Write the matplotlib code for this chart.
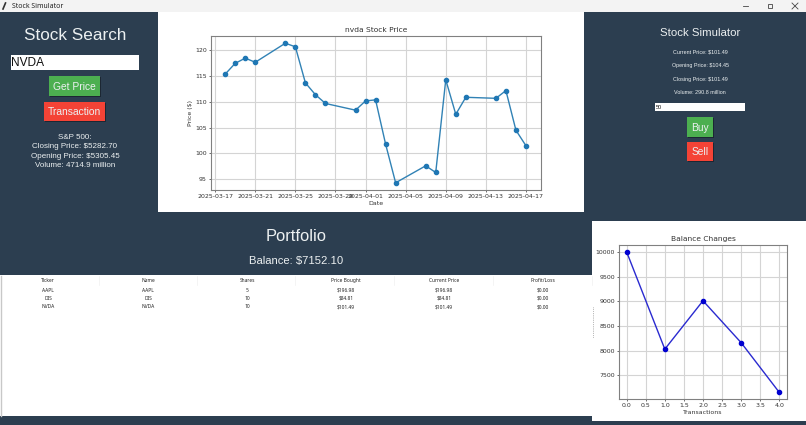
import matplotlib
matplotlib.use('Agg')
import matplotlib.pyplot as plt
import matplotlib.dates as mdates
from matplotlib.patches import Rectangle
from datetime import datetime

W, H = 806, 425
BG = '#2c3e50'
GREEN = '#4caf50'
RED = '#f44336'
LIGHT = '#ecf0f1'

dates = ['2025-03-18', '2025-03-19', '2025-03-20', '2025-03-21', '2025-03-24', '2025-03-25',
         '2025-03-26', '2025-03-27', '2025-03-28', '2025-03-31', '2025-04-01', '2025-04-02',
         '2025-04-03', '2025-04-04', '2025-04-07', '2025-04-08', '2025-04-09', '2025-04-10',
         '2025-04-11', '2025-04-14', '2025-04-15', '2025-04-16', '2025-04-17']
prices = [115.4, 117.5, 118.5, 117.7, 121.4, 120.7, 113.7, 111.4, 109.7, 108.4, 110.2, 110.4,
          101.8, 94.3, 97.6, 96.3, 114.3, 107.6, 110.9, 110.7, 112.2, 104.5, 101.49]
date_ticks = ['2025-03-17', '2025-03-21', '2025-03-25', '2025-03-29', '2025-04-01',
              '2025-04-05', '2025-04-09', '2025-04-13', '2025-04-17']
price_ticks = [95, 100, 105, 110, 115, 120]

transactions = [0, 1, 2, 3, 4]
balances = [10000, 8030, 9010, 8160, 7152]
trans_ticks = [0.0, 0.5, 1.0, 1.5, 2.0, 2.5, 3.0, 3.5, 4.0]
balance_ticks = [7500, 8000, 8500, 9000, 9500, 10000]

columns = ['Ticker', 'Name', 'Shares', 'Price Bought', 'Current Price', 'Profit/Loss']
rows = [['AAPL', 'AAPL', '5', '$196.98', '$196.98', '$0.00'],
        ['DIS', 'DIS', '10', '$84.81', '$84.81', '$0.00'],
        ['NVDA', 'NVDA', '10', '$101.49', '$101.49', '$0.00']]
column_x = [48, 148, 247, 346, 444, 543]
row_y = [290, 298, 307]

sp500_lines = ['S&P 500:', 'Closing Price: $5282.70', 'Opening Price: $5305.45', 'Volume: 4714.9 million']
sim_lines = ['Current Price: $101.49', 'Opening Price: $104.45', 'Closing Price: $101.49', 'Volume: 290.8 million']

plt.rcParams['font.family'] = ['Liberation Sans', 'DejaVu Sans']

fig = plt.figure(figsize=(W / 100, H / 100), dpi=100, facecolor=BG)

# everything that is window furniture is drawn in pixel coordinates
bg = fig.add_axes([0, 0, 1, 1])
bg.set_xlim(0, W)
bg.set_ylim(H, 0)
bg.axis('off')


def box(x0, y0, x1, y1, color, **kw):
    bg.add_patch(Rectangle((x0, y0), x1 - x0, y1 - y0, facecolor=color, edgecolor='none', **kw))


def button(x0, y0, x1, y1, color, label, size):
    box(x0 + 1, y0 + 1, x1 + 1, y1 + 1, '#1c2733')
    box(x0, y0, x1, y1, color)
    bg.text((x0 + x1) / 2, (y0 + y1) / 2 + size * 0.5, label, color=LIGHT, fontsize=size,
            ha='center', va='baseline')


# title bar
box(0, 0, W, 12, '#f3f3f3')
bg.plot([3, 5.5], [9, 3], color='#333333', lw=1.2)
bg.text(12, 6.2, 'Stock Simulator', fontsize=5, color='#222222', va='center',
        family=['Noto Sans', 'DejaVu Sans'])
bg.plot([743, 748], [6, 6], color='#444444', lw=0.6)
bg.add_patch(Rectangle((768, 4), 4, 4, fill=False, edgecolor='#444444', lw=0.6))
bg.plot([792, 798], [3, 9], color='#444444', lw=0.6)
bg.plot([792, 798], [9, 3], color='#444444', lw=0.6)

# white panels
box(158, 12, 584, 212, 'white')
box(0, 275, 592, 416, 'white')
box(592, 221, W, 421, 'white')
bg.plot([0.5, 0.5], [276, 416], color='#c8c8c8', lw=1)
for x in [99, 197, 295, 394, 493, 592]:
    bg.plot([x, x], [276, 285], color='#f0f0f0', lw=0.5)
bg.plot([592.5, 592.5], [307, 338], color='#777777', lw=0.5, ls=':')

# left column
bg.text(75, 35, 'Stock Search', color=LIGHT, fontsize=12.3, ha='center', va='center')
box(11, 55, 139, 70, 'white')
bg.text(11.5, 62.5, 'NVDA', color='#111111', fontsize=8.6, va='center')
button(49, 76, 100, 96, GREEN, 'Get Price', 7.4)
button(44, 102, 105, 121, RED, 'Transaction', 7.4)
for line, y in zip(sp500_lines, [139, 148.5, 158, 167]):
    bg.text(75, y, line, color=LIGHT, fontsize=5.8, ha='center', va='baseline')

# right column
bg.text(700, 33, 'Stock Simulator', color=LIGHT, fontsize=8.2, ha='center', va='center')
for line, y in zip(sim_lines, [53.5, 67, 80.5, 94]):
    bg.text(700, y, line, color=LIGHT, fontsize=3.9, ha='center', va='baseline')
box(655, 103, 745, 111, 'white')
bg.text(656, 107, '50', color='#111111', fontsize=4, va='center')
button(687, 117, 713, 137, GREEN, 'Buy', 7.4)
button(687, 142, 713, 161, RED, 'Sell', 7.4)

# portfolio header
bg.text(296, 236, 'Portfolio', color=LIGHT, fontsize=11.9, ha='center', va='center')
bg.text(296, 261, 'Balance: $7152.10', color=LIGHT, fontsize=8.1, ha='center', va='center')

# table
for name, x in zip(columns, column_x):
    bg.text(x, 280.5, name, fontsize=3.5, color='#222222', ha='center', va='center',
            family=['Noto Sans', 'DejaVu Sans'])
for row, y in zip(rows, row_y):
    for cell, x in zip(row, column_x):
        bg.text(x, y, cell, fontsize=3.5, color='#222222', ha='center', va='center',
                family=['Noto Sans', 'DejaVu Sans'])


def pixel_axes(left, top, right, bottom):
    ax = fig.add_axes([left / W, 1 - bottom / H, (right - left) / W, (bottom - top) / H])
    ax.set_facecolor('white')
    for spine in ax.spines.values():
        spine.set_color('#808080')
        spine.set_linewidth(0.8)
    ax.tick_params(labelsize=4.5, length=1.5, width=0.5, pad=1.5, colors='#333333')
    for label in ax.get_xticklabels() + ax.get_yticklabels():
        label.set_family('DejaVu Sans')
    ax.grid(True, color='#d4d4d4', lw=0.8)
    ax.set_axisbelow(True)
    return ax


def label_axes(ax, title, xlabel, ylabel=None):
    ax.set_title(title, fontsize=5.4, color='#333333', pad=3, family='DejaVu Sans')
    ax.set_xlabel(xlabel, fontsize=4.5, color='#333333', labelpad=1, family='DejaVu Sans')
    if ylabel:
        ax.set_ylabel(ylabel, fontsize=4.5, color='#333333', labelpad=1.5, family='DejaVu Sans')
    for label in ax.get_xticklabels() + ax.get_yticklabels():
        label.set_family('DejaVu Sans')


# stock price chart
ax = pixel_axes(211, 36, 541, 190)
ax.plot([datetime.strptime(d, '%Y-%m-%d') for d in dates], prices,
        color='#3182b5', marker='o', ms=3, mfc='#1f77b4', mec='#1f77b4', lw=1)
ax.set_xticks([datetime.strptime(d, '%Y-%m-%d') for d in date_ticks])
ax.xaxis.set_major_formatter(mdates.DateFormatter('%Y-%m-%d'))
ax.set_yticks(price_ticks)
ax.set_xlim(datetime(2025, 3, 16, 14), datetime(2025, 4, 18, 12))
ax.set_ylim(92.9, 122.8)
label_axes(ax, 'nvda Stock Price', 'Date', 'Price ($)')

# balance chart
ax2 = pixel_axes(619, 245, 787, 399)
ax2.plot(transactions, balances, color='#2a2ad0', marker='o', ms=3, mfc='#0000d0', mec='#0000d0', lw=1)
ax2.set_xticks(trans_ticks)
ax2.set_yticks(balance_ticks)
ax2.set_xlim(-0.2, 4.2)
ax2.set_ylim(7020, 10140)
label_axes(ax2, 'Balance Changes', 'Transactions')

fig.savefig('out.png', dpi=100, facecolor=fig.get_facecolor())
